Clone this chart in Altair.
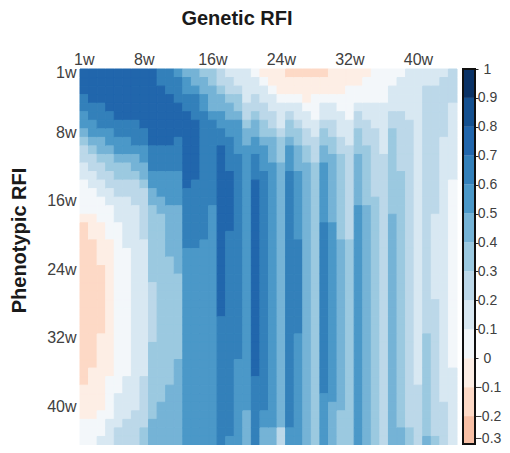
import altair as alt
import pandas as pd

# Each list is one column of the matrix, top to bottom, as (colour class, number of rows).
# Class k means the value lies between k/10 and (k+1)/10.
COLUMNS = [
    [(7,3),(6,2),(5,2),(4,1),(3,1),(2,2),(1,2),(0,4),(-1,1),(-2,19),(-1,4),(0,3)],
    [(7,4),(6,2),(5,2),(4,1),(3,1),(2,2),(1,2),(0,3),(-1,3),(-2,15),(-1,6),(0,3)],
    [(7,4),(6,3),(5,1),(4,2),(3,1),(2,2),(1,2),(0,3),(-1,5),(-2,8),(-1,9),(0,3),(1,1)],
    [(7,5),(6,2),(5,2),(4,1),(3,2),(2,2),(1,2),(0,4),(-1,16),(0,5),(1,3)],
    [(7,6),(6,2),(5,2),(4,1),(3,2),(2,2),(1,3),(0,20),(1,4),(2,2)],
    [(7,6),(6,2),(5,2),(4,1),(3,2),(2,2),(1,6),(0,15),(1,5),(2,3)],
    [(7,6),(6,3),(5,1),(4,2),(3,1),(2,3),(1,24),(2,4)],
    [(7,7),(6,2),(5,2),(4,2),(3,1),(2,6),(1,16),(2,6),(3,2)],
    [(7,9),(6,3),(5,2),(4,2),(3,9),(2,7),(3,9),(4,3)],
    [(6,2),(7,7),(6,3),(5,3),(4,2),(3,22),(4,5)],
    [(6,3),(7,6),(6,3),(5,4),(4,6),(3,15),(4,7)],
    [(5,1),(6,3),(7,4),(6,4),(5,4),(4,8),(3,10),(4,10)],
    [(4,1),(5,2),(6,2),(7,9),(6,7),(5,23)],
    [(4,2),(5,1),(6,3),(7,7),(6,8),(5,23)],
    [(3,1),(4,2),(5,2),(6,15),(5,24)],
    [(3,2),(4,3),(5,1),(6,10),(5,28)],
    [(2,2),(3,1),(4,2),(5,2),(6,2),(7,20),(6,15)],
    [(1,1),(2,2),(3,1),(4,2),(5,2),(6,4),(7,7),(6,24),(5,1)],
    [(1,2),(2,1),(3,2),(4,1),(5,4),(6,24),(5,10)],
    [(1,4),(2,2),(3,1),(4,2),(5,31),(4,4)],
    [(0,1),(1,2),(2,2),(3,1),(4,2),(5,2),(6,3),(7,23),(6,8)],
    [(-1,1),(0,1),(1,2),(2,2),(3,2),(4,1),(5,3),(6,28),(5,2),(4,2)],
    [(-1,2),(0,1),(1,2),(2,2),(3,1),(4,3),(5,31),(4,2)],
    [(-1,3),(0,1),(1,3),(2,1),(3,3),(4,31),(2,2)],
    [(-2,1),(-1,2),(0,1),(1,1),(2,1),(3,2),(4,1),(5,3),(6,30),(5,2)],
    [(-2,1),(-1,2),(0,1),(1,2),(2,1),(3,2),(4,3),(5,8),(6,11),(5,13)],
    [(-2,1),(-1,3),(0,1),(1,2),(2,2),(3,2),(4,33)],
    [(-2,1),(-1,2),(0,3),(1,2),(2,3),(3,33)],
    [(-2,1),(-1,2),(0,1),(1,2),(2,1),(3,2),(4,2),(5,7),(6,20),(5,6)],
    [(-1,3),(0,1),(1,2),(2,2),(3,2),(4,8),(5,21),(4,5)],
    [(-1,3),(0,2),(1,3),(2,2),(3,10),(4,20),(3,4)],
    [(-1,2),(0,4),(1,3),(2,11),(3,24)],
    [(-1,2),(0,2),(1,1),(2,2),(3,3),(4,6),(5,28)],
    [(-1,1),(0,3),(1,2),(2,3),(3,7),(4,28)],
    [(0,4),(1,3),(2,8),(3,29)],
    [(0,4),(1,6),(2,34)],
    [(0,2),(1,3),(2,2),(3,10),(4,27)],
    [(0,1),(1,4),(2,7),(3,30),(4,2)],
    [(1,6),(2,36),(3,2)],
    [(1,37),(2,7)],
    [(1,2),(2,29),(3,12),(4,1)],
    [(1,2),(2,15),(1,10),(2,16),(3,1)],
    [(1,1),(2,7),(1,31),(2,5)],
    [(2,4),(1,9),(0,22),(1,9)],
]
TICK_WEEKS = [1, 8, 16, 24, 32, 40]
BAR_TICKS = [-0.3, -0.2, -0.1, 0, 0.1, 0.2, 0.3, 0.4, 0.5, 0.6, 0.7, 0.8, 0.9, 1]
BAR_CLASSES = [-3, -2, -1, 0, 1, 2, 3, 4, 5, 6, 7, 8, 9]
BAR_COLORS = ["#f7bfa5", "#fdd9c6", "#fdeee5", "#f3f7fa", "#d8e8f2", "#bcd8e9", "#9bc9e0",
              "#75b3d6", "#4b98c8", "#3380ba", "#2166ac", "#14508f", "#0a3266"]
INK = "#404040"
FONT = "Liberation Sans"

rows = []
for col_i, col in enumerate(COLUMNS, start=1):
    r = 1
    for k, n in col:
        for _ in range(n):
            rows.append({"gen": col_i, "phe": r, "k": k})
            r += 1
    assert r == 45, col_i
df = pd.DataFrame(rows)

color_scale = alt.Scale(domain=BAR_CLASSES, range=BAR_COLORS)

axis_common = dict(values=TICK_WEEKS, labelExpr="datum.value + 'w'", ticks=False, domain=False,
                   labelFont=FONT, labelFontSize=16, labelColor=INK, labelAngle=0,
                   titleFont=FONT, titleFontSize=20, titleFontWeight="bold", titleColor="#1a1a1a",
                   grid=False)

heat = alt.Chart(df).mark_rect(strokeWidth=1).encode(
    x=alt.X("gen:O", scale=alt.Scale(paddingInner=0, paddingOuter=0),
            axis=alt.Axis(orient="top", title="Genetic RFI", labelPadding=2, titleX=156.5, titleY=-50.5,
                          titleAlign="center", titleBaseline="middle", **axis_common)),
    y=alt.Y("phe:O", scale=alt.Scale(paddingInner=0, paddingOuter=0),
            axis=alt.Axis(orient="left", title="Phenotypic RFI", labelPadding=4, titleX=-61, titleY=171,
                          titleAlign="center", titleBaseline="middle", **axis_common)),
    color=alt.Color("k:O", scale=color_scale, legend=None),
    stroke=alt.Color("k:O", scale=color_scale, legend=None),
)

bar_df = pd.DataFrame({"k": BAR_CLASSES, "lo": [c / 10 for c in BAR_CLASSES], "hi": [(c + 1) / 10 for c in BAR_CLASSES]})
bar = alt.Chart(bar_df).mark_rect().encode(
    x=alt.value(383), x2=alt.value(395),
    y=alt.Y("lo:Q", scale=alt.Scale(domain=[-0.3, 1], nice=False, zero=False),
            axis=alt.Axis(orient="right", title=None, values=BAR_TICKS, format="~g", grid=False, offset=18,
                          domain=False, tickSize=3, tickColor="#222222", labelAlign="center",
                          labelBaseline=alt.expr("datum.value < -0.25 ? 'bottom' : 'middle'"),
                          labelPadding=9, labelFont=FONT, labelFontSize=14, labelColor=INK, labelBound=False)),
    y2="hi:Q",
    color=alt.Color("k:O", scale=color_scale, legend=None),
)
frame = alt.Chart(bar_df).mark_rect(filled=False, stroke="#111111", strokeWidth=1.5).encode(
    x=alt.value(383), x2=alt.value(395), y=alt.value(0), y2=alt.value(375.5),
)

chart = alt.layer(heat, bar, frame).resolve_scale(y="independent", x="independent", color="shared").properties(
    width=377, height=376, autosize="none",
    padding={"left": 72, "top": 61, "right": 45, "bottom": 0},
).configure_view(stroke=None)
chart.save("out.html", embed_options={"renderer": "svg", "actions": False})
